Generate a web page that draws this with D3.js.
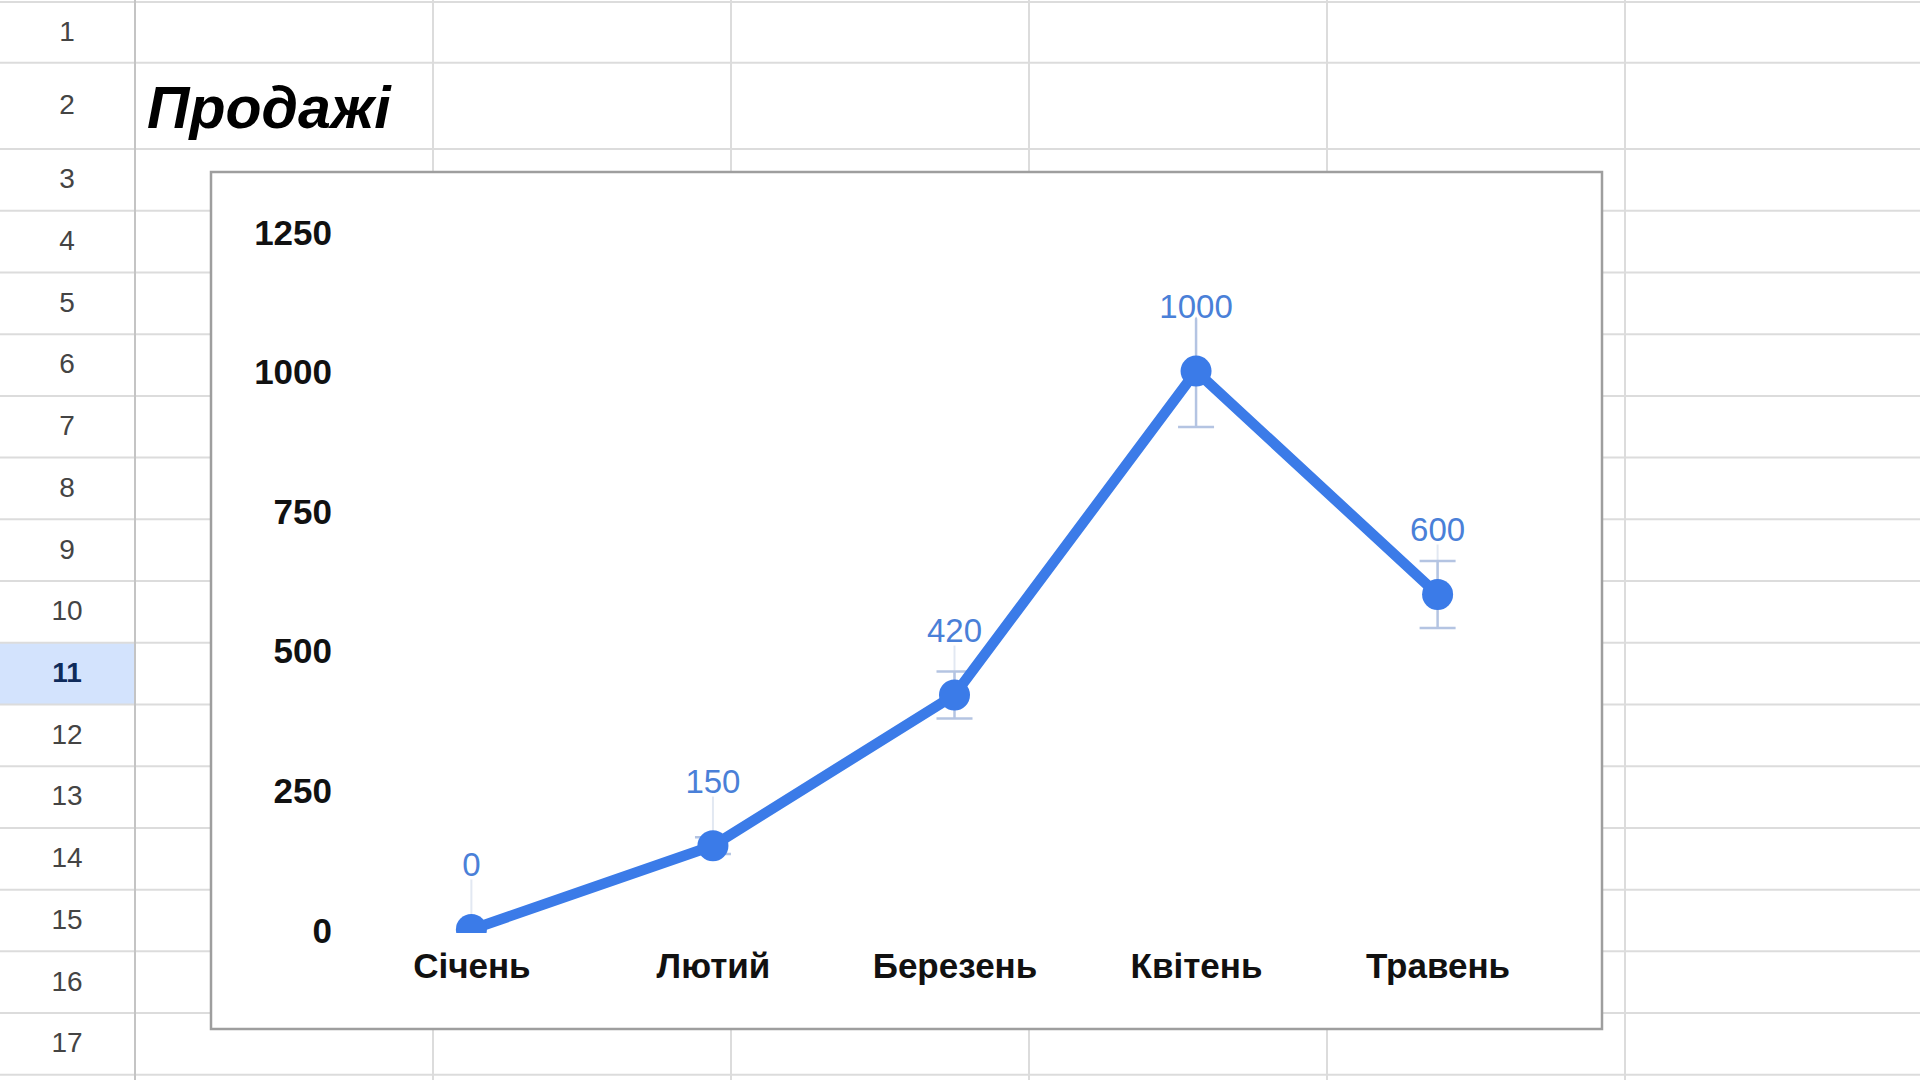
<!DOCTYPE html>
<html><head><meta charset="utf-8">
<script src="https://cdn.jsdelivr.net/npm/d3@7"></script>
<style>
html,body{margin:0;padding:0;background:#fff;overflow:hidden}
svg{display:block;font-family:"Liberation Sans",Arial,sans-serif}
</style></head>
<body>
<svg id="c" width="1920" height="1080"></svg>
<script>
const categories = ["Січень","Лютий","Березень","Квітень","Травень"];
const sales = [0,150,420,1000,600];
const errors = [0,15,42,100,60];
const yTicks = [0,250,500,750,1000,1250];
const rowLabels = d3.range(1,18).map(String);
const title = "Продажі";

const svg = d3.select("#c");

// spreadsheet grid
const rowBounds = [2,62.7,149];
for(let i=0;i<16;i++) rowBounds.push(149+61.72*(i+1));
const colBounds = [135,433,731,1029,1327,1625,1923];
const g = svg.append("g");
g.append("rect").attr("x",0).attr("y",rowBounds[10]).attr("width",135).attr("height",rowBounds[11]-rowBounds[10]).attr("fill","#d3e3fd");
rowBounds.forEach(y=>{
  g.append("line").attr("x1",0).attr("x2",1920).attr("y1",y).attr("y2",y).attr("stroke","#dcdcdc").attr("stroke-width",2);
});
colBounds.forEach((x,i)=>{
  g.append("line").attr("x1",x).attr("x2",x).attr("y1",0).attr("y2",1080).attr("stroke",i===0?"#c4c4c4":"#dcdcdc").attr("stroke-width",2);
});
rowLabels.forEach((t,i)=>{
  const cy=(rowBounds[i]+rowBounds[i+1])/2;
  g.append("text").attr("x",67).attr("y",cy).attr("dy","0.3em").attr("text-anchor","middle")
   .attr("font-size",28).attr("fill",i===10?"#0f2b5b":"#444")
   .attr("font-weight",i===10?"bold":"normal").text(t);
});
// title
svg.append("text").attr("x",147).attr("y",128).attr("font-size",59).attr("font-weight","bold")
  .attr("font-style","italic").attr("fill","#000").text(title);

// chart frame
svg.append("rect").attr("x",211).attr("y",172).attr("width",1391).attr("height",857)
  .attr("fill","#fff").attr("stroke","#9e9e9e").attr("stroke-width",2.5);

const x = d3.scalePoint().domain(categories).range([471.4,1437.6]);
const y = d3.scaleLinear().domain([0,1250]).range([929.5,231.5]);

// y axis labels
const yAxis = d3.axisLeft(y).tickValues(yTicks).tickFormat(d3.format("d")).tickSize(0).tickPadding(0);
const ya = svg.append("g").attr("transform","translate(332,0)").call(yAxis);
ya.select(".domain").remove();
ya.selectAll("text").attr("font-size",35).attr("font-weight","bold").attr("fill","#111")
  .attr("font-family","'Liberation Sans',Arial,sans-serif").attr("dy","0.36em");

// x axis labels
const xAxis = d3.axisBottom(x).tickSize(0).tickPadding(0);
const xa = svg.append("g").attr("transform","translate(0,965)").call(xAxis);
xa.select(".domain").remove();
xa.selectAll("text").attr("font-size",35).attr("font-weight","bold").attr("fill","#111")
  .attr("font-family","'Liberation Sans',Arial,sans-serif").attr("dy","0.36em");

svg.append("clipPath").attr("id","clip").append("rect").attr("x",212).attr("y",180).attr("width",1388).attr("height",933-180);
const plot = svg.append("g").attr("clip-path","url(#clip)");
const data = categories.map((c,i)=>({c,v:sales[i],e:errors[i]}));

// leader lines
plot.selectAll(".lead").data(data).join("line")
  .attr("x1",d=>x(d.c)).attr("x2",d=>x(d.c))
  .attr("y1",d=>y(d.v)-52).attr("y2",d=>y(d.v))
  .attr("stroke","#e2e8f2").attr("stroke-width",2);
// error bars
const eb = plot.selectAll(".eb").data(data.filter(d=>d.e>0)).join("g");
eb.append("line").attr("x1",d=>x(d.c)).attr("x2",d=>x(d.c))
  .attr("y1",d=>y(d.v+d.e)).attr("y2",d=>y(d.v-d.e)).attr("stroke","#b4c4e2").attr("stroke-width",2.5);
[1,-1].forEach(s=>{
  eb.append("line").attr("x1",d=>x(d.c)-18).attr("x2",d=>x(d.c)+18)
    .attr("y1",d=>y(d.v+s*d.e)).attr("y2",d=>y(d.v+s*d.e)).attr("stroke","#b4c4e2").attr("stroke-width",2.5);
});
// data labels
plot.selectAll(".lbl").data(data).join("text")
  .attr("x",d=>x(d.c)).attr("y",d=>y(d.v)-65).attr("dy","0.36em").attr("text-anchor","middle")
  .attr("font-size",33).attr("fill","#4a80d8")
  .attr("stroke","#fff").attr("stroke-width",7).attr("paint-order","stroke").attr("stroke-linejoin","round")
  .text(d=>d.v);
// line
plot.append("path").datum(data)
  .attr("d",d3.line().x(d=>x(d.c)).y(d=>y(d.v)))
  .attr("fill","none").attr("stroke","#3b7be8").attr("stroke-width",10.5).attr("stroke-linejoin","round");
// dots
plot.selectAll(".dot").data(data).join("circle")
  .attr("cx",d=>x(d.c)).attr("cy",d=>y(d.v)).attr("r",15.5).attr("fill","#3b7be8");
</script>
</body></html>
